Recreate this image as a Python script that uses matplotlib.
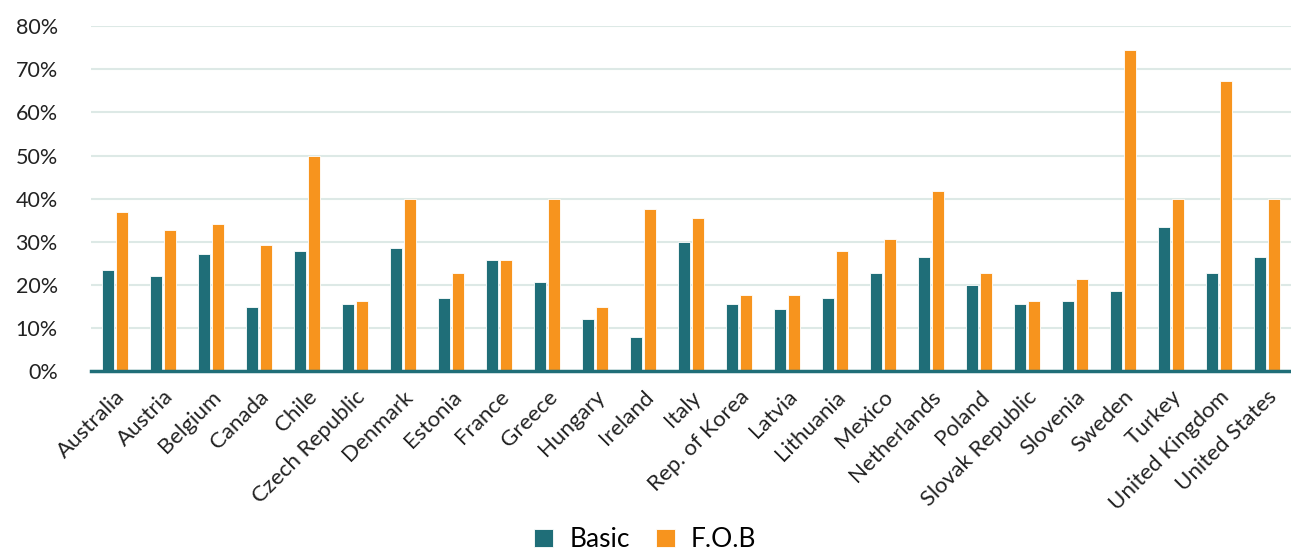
import matplotlib.pyplot as plt
import numpy as np
from matplotlib.ticker import FuncFormatter

plt.rcParams['font.family'] = ['Lato', 'DejaVu Sans']

countries = ["Australia", "Austria", "Belgium", "Canada", "Chile", "Czech Republic",
             "Denmark", "Estonia", "France", "Greece", "Hungary", "Ireland", "Italy",
             "Rep. of Korea", "Latvia", "Lithuania", "Mexico", "Netherlands", "Poland",
             "Slovak Republic", "Slovenia", "Sweden", "Turkey", "United Kingdom",
             "United States"]
basic = [23.5, 22.1, 27.1, 15.0, 27.8, 15.7, 28.5, 17.1, 25.7, 20.7, 12.2, 7.9, 29.9,
         15.7, 14.4, 17.1, 22.8, 26.4, 20.0, 15.7, 16.4, 18.6, 33.5, 22.8, 26.4]
fob = [37.0, 32.8, 34.2, 29.2, 49.8, 16.4, 40.0, 22.8, 25.7, 40.0, 15.0, 37.7, 35.6,
       17.8, 17.8, 27.8, 30.6, 41.9, 22.8, 16.4, 21.5, 74.5, 40.0, 67.4, 40.0]

teal = '#1f6e78'
orange = '#f7941e'

fig = plt.figure(figsize=(12.91, 5.56), dpi=100)
ax = fig.add_axes([0.0705, 0.332, 0.9295, 0.621])

x = np.arange(len(countries))
w = 0.25
ax.bar(x - 0.15, basic, w, color=teal, edgecolor='white', linewidth=0.6, label='Basic', zorder=3)
ax.bar(x + 0.15, fob, w, color=orange, edgecolor='white', linewidth=0.6, label='F.O.B', zorder=3)

ax.set_xlim(-0.5, len(countries) - 0.5)
ax.set_ylim(0, 80)
ax.set_yticks(np.arange(0, 81, 10))
ax.yaxis.set_major_formatter(FuncFormatter(lambda v, _: f"{v:.0f}%"))
ax.grid(axis='y', color='#dde9e6', linewidth=1.5, zorder=0)

for side in ['top', 'right', 'left']:
    ax.spines[side].set_visible(False)
ax.spines['bottom'].set_color(teal)
ax.spines['bottom'].set_linewidth(2.5)
ax.spines['bottom'].set_zorder(4)

ax.tick_params(axis='y', length=0, pad=24, labelsize=15.5, labelcolor='#222222')
ax.tick_params(axis='x', length=0, pad=11, labelsize=16, labelcolor='#222222')
ax.set_xticks(x)
ax.set_xticklabels(countries, rotation=45, ha='right', rotation_mode='anchor')

fig.legend(loc='lower center', bbox_to_anchor=(0.5, -0.036), ncol=2, frameon=False,
           fontsize=19, handlelength=0.72, handleheight=0.72, columnspacing=1.0,
           handletextpad=0.6)

fig.savefig('out.png', dpi=100)
